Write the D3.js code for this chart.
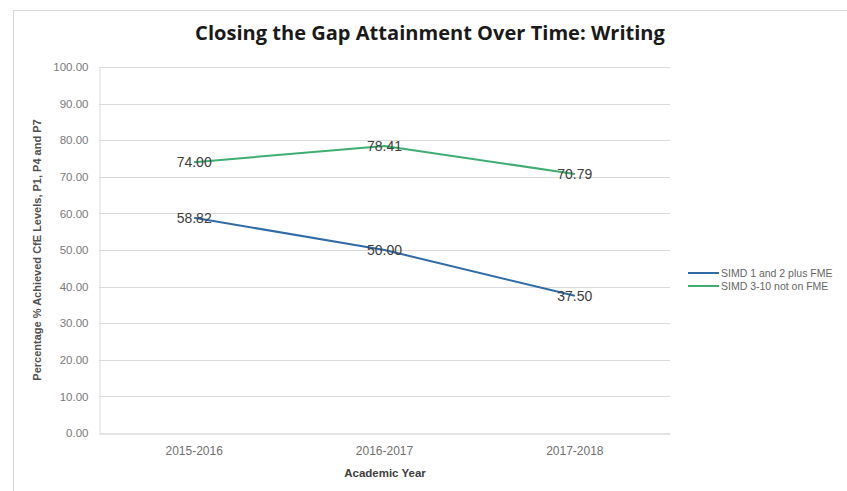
<!DOCTYPE html>
<html>
<head>
<meta charset="utf-8">
<script src="https://cdn.jsdelivr.net/npm/d3@7"></script>
<style>
  html, body { margin: 0; padding: 0; background: #fff; }
  svg { display: block; font-family: "Liberation Sans Narrow", "Liberation Sans", Arial, sans-serif; }
</style>
</head>
<body>
<svg id="chart" width="847" height="491"></svg>
<script>
// Academic years on the category axis
const years = ["2015-2016", "2016-2017", "2017-2018"];
// Series names and their values (% achieving CfE levels)
const seriesNames = ["SIMD 1 and 2 plus FME", "SIMD 3-10 not on FME"];
const simd12Values = [58.82, 50.00, 37.50];
const simd310Values = [74.00, 78.41, 70.79];
const seriesColors = ["#2f6ca6", "#3fad72"];
// Value axis ticks
const yTicks = [0, 10, 20, 30, 40, 50, 60, 70, 80, 90, 100];

const series = [
  { name: seriesNames[0], values: simd12Values, color: seriesColors[0] },
  { name: seriesNames[1], values: simd310Values, color: seriesColors[1] }
];

const svg = d3.select("#chart");
const plot = { left: 99, right: 670, top: 67, bottom: 433 };

// outer chart border
svg.append("rect")
  .attr("x", 13.5).attr("y", 10.5).attr("width", 900).attr("height", 600)
  .attr("fill", "none").attr("stroke", "#d9d9d9").attr("stroke-width", 1);

const x = d3.scaleBand().domain(years).range([plot.left, plot.right]);
const y = d3.scaleLinear().domain([0, 100]).range([plot.bottom, plot.top]);

// horizontal gridlines
svg.append("g").selectAll("line").data(yTicks.filter(t => t > 0)).join("line")
  .attr("x1", plot.left).attr("x2", plot.right)
  .attr("y1", d => Math.round(y(d)) + 0.5).attr("y2", d => Math.round(y(d)) + 0.5)
  .attr("stroke", "#d9d9d9").attr("stroke-width", 1);

// value axis
const yAxis = svg.append("g").attr("transform", `translate(${plot.left + 0.5},0)`)
  .call(d3.axisLeft(y).tickValues(yTicks).tickFormat(d3.format(".2f")).tickSize(0).tickPadding(11));
yAxis.select(".domain").attr("stroke", "#d9d9d9");
yAxis.selectAll("text").attr("font-size", 11.5).attr("fill", "#7a7a7a");

// category axis
const xAxis = svg.append("g").attr("transform", `translate(0,${plot.bottom + 0.5})`)
  .call(d3.axisBottom(x).tickSize(0).tickPadding(13));
xAxis.select(".domain").attr("stroke", "#c8c8c8");
xAxis.selectAll("text").attr("font-size", 12).attr("fill", "#6f6f6f");

// series lines
const line = d3.line()
  .x((d, i) => x(years[i]) + x.bandwidth() / 2)
  .y(d => y(d));

svg.append("g").selectAll("path").data(series).join("path")
  .attr("d", d => line(d.values))
  .attr("fill", "none")
  .attr("stroke", d => d.color)
  .attr("stroke-width", 2)
  .attr("stroke-linejoin", "round");

// data labels
series.forEach(s => {
  svg.append("g").selectAll("text").data(s.values).join("text")
    .attr("x", (d, i) => x(years[i]) + x.bandwidth() / 2)
    .attr("y", d => y(d))
    .attr("dy", "0.35em")
    .attr("text-anchor", "middle")
    .attr("font-size", 14)
    .attr("fill", "#404040")
    .text(d => d3.format(".2f")(d));
});

// title
const title = svg.append("text")
  .attr("x", 430).attr("y", 40)
  .attr("text-anchor", "middle")
  .attr("font-family", "'Open Sans', 'Liberation Sans', sans-serif")
  .attr("font-weight", "bold")
  .attr("font-size", 20)
  .attr("fill", "#1a1a1a")
  .text("Closing the Gap Attainment Over Time: Writing");
const tw = title.node().getComputedTextLength();
title.attr("font-size", 20 * 470 / tw);

// axis titles
svg.append("text")
  .attr("transform", "translate(41,250) rotate(-90)")
  .attr("text-anchor", "middle")
  .attr("font-size", 11)
  .attr("font-weight", "bold")
  .attr("fill", "#505050")
  .text("Percentage % Achieved CfE Levels, P1, P4 and P7");

svg.append("text")
  .attr("x", 385).attr("y", 477)
  .attr("text-anchor", "middle")
  .attr("font-size", 11.5)
  .attr("font-weight", "bold")
  .attr("fill", "#404040")
  .text("Academic Year");

// legend
const legend = svg.append("g").selectAll("g").data(series).join("g")
  .attr("transform", (d, i) => `translate(688,${273 + i * 13})`);
legend.append("line")
  .attr("x1", 0).attr("x2", 31)
  .attr("stroke", d => d.color).attr("stroke-width", 2);
legend.append("text")
  .attr("x", 33).attr("dy", "0.35em")
  .attr("font-size", 10.5)
  .attr("fill", "#666")
  .text(d => d.name);
</script>
</body>
</html>
